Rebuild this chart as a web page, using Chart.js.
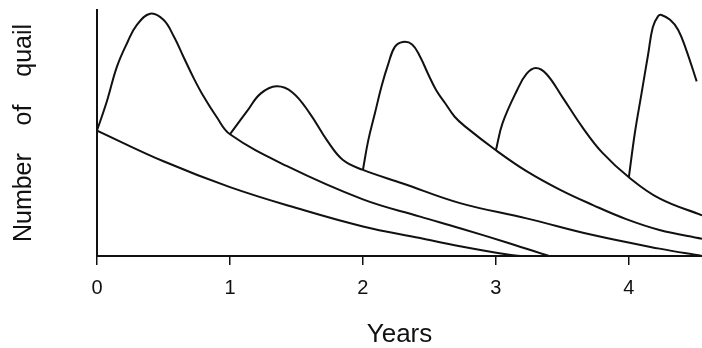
<!DOCTYPE html>
<html>
<head>
<meta charset="utf-8">
<script src="https://cdn.jsdelivr.net/npm/chart.js@4/dist/chart.umd.min.js"></script>
<style>
  body { margin: 0; background: #fff; }
  canvas { display: block; }
</style>
</head>
<body>
<canvas id="quailChart" width="702" height="348"></canvas>
<script>
"use strict";

// years on the x axis, number of quail (relative units) on the y axis
const yearTicks = [0, 1, 2, 3, 4];

// cohort present at year 0, only declining
const cohortAx = [0, 0.5, 1, 1.5, 2, 2.43, 2.73, 3.1, 3.2];
const cohortAy = [51, 38.5, 28, 19.5, 12, 7.3, 4, 0.5, 0];

// breeding season 0
const cohortBx = [0, 0.075, 0.15, 0.23, 0.3, 0.4, 0.5, 0.58, 0.65, 0.73, 0.8, 0.9, 1, 1.43, 2, 2.43, 2.73, 3.1, 3.4];
const cohortBy = [51, 63, 77, 87, 94, 98.5, 96, 89, 81, 72, 65, 56.5, 49.5, 36.5, 23, 16, 11.3, 5.2, 0];

// breeding season 1
const cohortCx = [1, 1.13, 1.23, 1.35, 1.47, 1.6, 1.73, 1.85, 2, 2.3, 2.73, 3.23, 3.73, 4.23, 4.55];
const cohortCy = [49.5, 59, 66, 69, 66.5, 58, 47, 39, 35, 29.5, 21.5, 15.3, 8.5, 3, 0];

// breeding season 2
const cohortDx = [2, 2.04, 2.09, 2.14, 2.19, 2.24, 2.3, 2.37, 2.43, 2.49, 2.55, 2.62, 2.69, 2.77, 3, 3.23, 3.48, 3.73, 3.98, 4.23, 4.55];
const cohortDy = [35, 47, 58, 69, 78, 85, 87, 86, 81, 74, 67.5, 62, 56.6, 52.6, 43, 34.5, 27, 20.7, 15, 10.6, 7];

// breeding season 3
const cohortEx = [3, 3.05, 3.16, 3.23, 3.3, 3.38, 3.5, 3.65, 3.8, 4, 4.23, 4.55];
const cohortEy = [43, 54, 67.5, 74, 76.4, 74, 64.6, 52.4, 42, 32, 23.4, 16.5];

// breeding season 4
const cohortFx = [4, 4.045, 4.095, 4.145, 4.18, 4.22, 4.245, 4.31, 4.37, 4.43, 4.51];
const cohortFy = [32, 50, 66, 82, 93, 97.5, 98, 96, 92, 84, 71];

const allCurves = [
  [cohortAx, cohortAy],
  [cohortBx, cohortBy],
  [cohortCx, cohortCy],
  [cohortDx, cohortDy],
  [cohortEx, cohortEy],
  [cohortFx, cohortFy]
];

const fontFamily = "'Liberation Sans', Arial, Helvetica, sans-serif";
const ink = "#111";

let datasets = allCurves.map(function (c) {
  return {
    data: c[0].map(function (x, i) { return { x: x, y: c[1][i] }; }),
    borderColor: ink,
    borderWidth: 2,
    pointRadius: 0,
    fill: false,
    tension: 0.4
  };
});

let ctx = document.getElementById("quailChart").getContext("2d");

let quailChart = new Chart(ctx, {
  type: "line",
  data: { datasets: datasets },
  options: {
    responsive: false,
    animation: false,
    devicePixelRatio: 1,
    layout: { padding: { top: 10, right: 0, bottom: 0, left: 0 } },
    plugins: {
      legend: { display: false },
      tooltip: { enabled: false }
    },
    scales: {
      x: {
        type: "linear",
        min: 0,
        max: 4.55,
        afterBuildTicks: function (scale) {
          scale.ticks = yearTicks.map(function (v) { return { value: v }; });
        },
        afterFit: function (scale) { scale.height = 92; },
        ticks: {
          color: ink,
          padding: 11,
          maxRotation: 0,
          font: { family: fontFamily, size: 20 }
        },
        grid: {
          display: true,
          drawOnChartArea: false,
          drawTicks: true,
          tickLength: 9,
          color: ink,
          lineWidth: 1.5
        },
        border: { display: true, color: ink, width: 2 },
        title: {
          display: true,
          text: "Years",
          color: ink,
          padding: { top: 0, bottom: 0 },
          font: { family: fontFamily, size: 26, lineHeight: 1 }
        }
      },
      y: {
        type: "linear",
        min: 0,
        max: 100,
        afterFit: function (scale) { scale.width = 97; },
        ticks: { display: false },
        grid: { display: false },
        border: { display: true, color: ink, width: 2 },
        title: {
          display: true,
          text: "Number    of    quail",
          color: ink,
          padding: { top: 9, bottom: 0 },
          font: { family: fontFamily, size: 25 }
        }
      }
    }
  }
});
</script>
</body>
</html>
